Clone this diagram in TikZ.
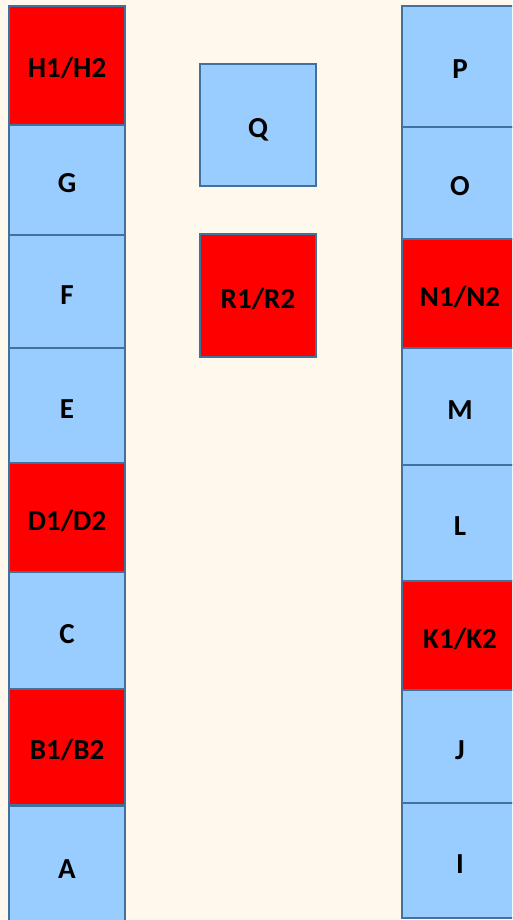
\documentclass[tikz,border=0pt]{standalone}
\usepackage{fontspec}
\setmainfont{Carlito}
\usepackage{tikz}
\usetikzlibrary{positioning}
\definecolor{paper}{RGB}{255,248,236}
\definecolor{cellblue}{RGB}{153,204,255}
\definecolor{cellred}{RGB}{255,0,0}
\definecolor{celledge}{RGB}{65,113,156}

\begin{document}
\begin{tikzpicture}[x=1pt,y=-1pt,
    font=\fontsize{29}{33}\selectfont\bfseries,
    cell/.style={draw=celledge,line width=2.5pt,inner sep=0pt,minimum width=116pt,
      text height=25pt,text depth=0pt},
    bluebox/.style={cell,fill=cellblue},
    redbox/.style={cell,fill=cellred}]
  \fill[paper] (0,0) rectangle (512,920);
  \useasboundingbox (0,0) rectangle (512,920);
  \clip (0,0) rectangle (512,920);
  % left row
  \node[redbox,minimum height=119pt]  (H) at (67,65.5)  {H1/H2};
  \node[bluebox,minimum height=110pt] (G) at (67,180)   {G};
  \node[bluebox,minimum height=113pt] (F) at (67,291.5) {F};
  \node[bluebox,minimum height=115pt] (E) at (67,405.5) {E};
  \node[redbox,minimum height=109pt]  (D) at (67,517.5) {D1/D2};
  \node[bluebox,minimum height=117pt] (C) at (67,630.5) {C};
  \node[redbox,minimum height=116pt]  (B) at (67,747)   {B1/B2};
  \node[bluebox,minimum height=120pt] (A) at (67,866)   {A};
  % middle
  \node[bluebox,minimum height=122pt] (Q) at (258,125)   {Q};
  \node[redbox,minimum height=123pt]  (R) at (258,295.5) {R1/R2};
  % right row
  \node[bluebox,minimum height=121pt] (P) at (460,66.5)  {P};
  \node[bluebox,minimum height=112pt] (O) at (460,183)   {O};
  \node[redbox,minimum height=109pt]  (N) at (460,293.5) {N1/N2};
  \node[bluebox,minimum height=117pt] (M) at (460,406.5) {M};
  \node[bluebox,minimum height=116pt] (L) at (460,523)   {L};
  \node[redbox,minimum height=109pt]  (K) at (460,635.5) {K1/K2};
  \node[bluebox,minimum height=113pt] (J) at (460,746.5) {J};
  \node[bluebox,minimum height=115pt] (I) at (460,860.5) {I};
\end{tikzpicture}
\end{document}
